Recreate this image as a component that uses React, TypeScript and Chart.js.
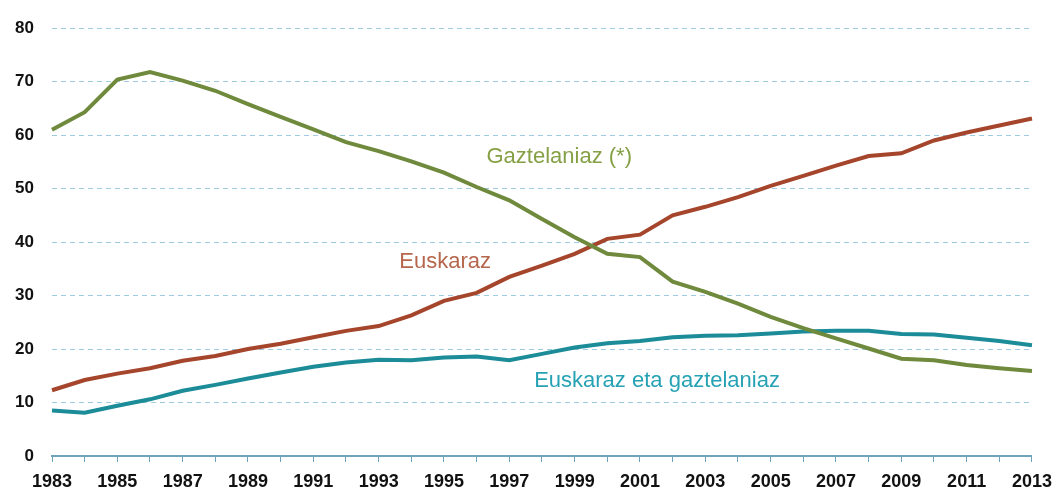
import React, { useEffect, useRef } from "react";
import { Chart, registerables } from "chart.js";

Chart.register(...registerables);

const years: string[] = [
  "1983", "1984", "1985", "1986", "1987", "1988", "1989", "1990", "1991", "1992",
  "1993", "1994", "1995", "1996", "1997", "1998", "1999", "2000", "2001", "2002",
  "2003", "2004", "2005", "2006", "2007", "2008", "2009", "2010", "2011", "2012", "2013",
];

const gaztelaniaz: number[] = [
  61.0, 64.3, 70.4, 71.8, 70.2, 68.3, 65.8, 63.4, 61.1, 58.7,
  57.0, 55.1, 53.0, 50.3, 47.8, 44.3, 40.9, 37.8, 37.2, 32.6,
  30.7, 28.5, 26.0, 23.9, 22.0, 20.1, 18.2, 17.9, 17.0, 16.4, 15.9,
];

const euskaraz: number[] = [
  12.3, 14.2, 15.4, 16.4, 17.8, 18.7, 20.0, 21.0, 22.2, 23.4,
  24.3, 26.3, 29.0, 30.5, 33.5, 35.6, 37.8, 40.6, 41.4, 45.0,
  46.6, 48.4, 50.5, 52.4, 54.3, 56.1, 56.6, 59.0, 60.5, 61.8, 63.1,
];

const elebiz: number[] = [
  8.5, 8.1, 9.4, 10.6, 12.2, 13.3, 14.5, 15.6, 16.7, 17.5,
  18.0, 17.9, 18.4, 18.6, 17.9, 19.1, 20.3, 21.1, 21.5, 22.2,
  22.5, 22.6, 22.9, 23.3, 23.4, 23.4, 22.8, 22.7, 22.1, 21.5, 20.7,
];

const yTicks: number[] = [0, 10, 20, 30, 40, 50, 60, 70, 80];

const seriesNames: string[] = ["Gaztelaniaz (*)", "Euskaraz", "Euskaraz eta gaztelaniaz"];

// label anchors: [index on x axis, value on y axis]
const labelAnchors: [number, number][] = [
  [13.3, 56.0],
  [10.63, 36.2],
  [14.76, 14.0],
];

const lineColors = ["#6f8a3c", "#a5452c", "#1b8c98"];
const labelColors = ["#86a046", "#b5664c", "#27a2b4"];

const labelPlugin = {
  id: "seriesLabels",
  afterDatasetsDraw(chart: any) {
    const ctx = chart.ctx;
    const xs = chart.scales.x;
    const ys = chart.scales.y;
    ctx.save();
    ctx.font = "22px 'Liberation Sans', Arial, sans-serif";
    ctx.textAlign = "left";
    ctx.textBaseline = "middle";
    seriesNames.forEach((name, i) => {
      const [xi, yv] = labelAnchors[i];
      ctx.fillStyle = labelColors[i];
      ctx.fillText(name, xs.getPixelForValue(xi), ys.getPixelForValue(yv));
    });
    ctx.restore();
  },
};

export default function App() {
  const ref = useRef<HTMLCanvasElement | null>(null);

  useEffect(() => {
    if (!ref.current) return;
    const chart = new Chart(ref.current, {
      type: "line",
      data: {
        labels: years,
        datasets: [
          { label: seriesNames[0], data: gaztelaniaz, borderColor: lineColors[0], backgroundColor: lineColors[0], borderWidth: 4, pointRadius: 0, tension: 0 },
          { label: seriesNames[1], data: euskaraz, borderColor: lineColors[1], backgroundColor: lineColors[1], borderWidth: 4, pointRadius: 0, tension: 0 },
          { label: seriesNames[2], data: elebiz, borderColor: lineColors[2], backgroundColor: lineColors[2], borderWidth: 4, pointRadius: 0, tension: 0 },
        ],
      },
      options: {
        responsive: false,
        animation: false,
        layout: { padding: { top: 27, right: 21, left: 0, bottom: 0 } },
        plugins: {
          legend: { display: false },
          tooltip: { enabled: false },
          title: { display: false },
        },
        scales: {
          x: {
            type: "category",
            offset: false,
            border: { display: true, color: "#6fa3bc", width: 2 },
            grid: {
              display: true,
              drawOnChartArea: false,
              drawTicks: true,
              tickLength: 6,
              color: "#6fa3bc",
              lineWidth: 1,
            },
            ticks: {
              autoSkip: false,
              maxRotation: 0,
              minRotation: 0,
              padding: 9,
              color: "#111111",
              font: { family: "'Liberation Sans', Arial, sans-serif", size: 18, weight: "bold" },
              callback: (_v: any, i: number) => (i % 2 === 0 ? years[i] : ""),
            },
            afterFit: (scale: any) => {
              scale.height = 37;
            },
          },
          y: {
            min: 0,
            max: 80,
            afterBuildTicks: (scale: any) => {
              scale.ticks = yTicks.map((v) => ({ value: v }));
            },
            border: { display: false, dash: [5, 4] },
            grid: {
              display: true,
              drawTicks: false,
              color: "#9fcbe2",
              lineWidth: 1,
            },
            ticks: {
              padding: 18,
              color: "#111111",
              font: { family: "'Liberation Sans', Arial, sans-serif", size: 17, weight: "bold" },
            },
            afterFit: (scale: any) => {
              scale.width = 52;
            },
          },
        },
      },
      plugins: [labelPlugin],
    } as any);
    return () => chart.destroy();
  }, []);

  return (
    <div style={{ position: "absolute", left: 0, top: 0, width: 1061, height: 493, background: "#ffffff" }}>
      <canvas ref={ref} width={1061} height={493} style={{ display: "block" }} />
    </div>
  );
}
